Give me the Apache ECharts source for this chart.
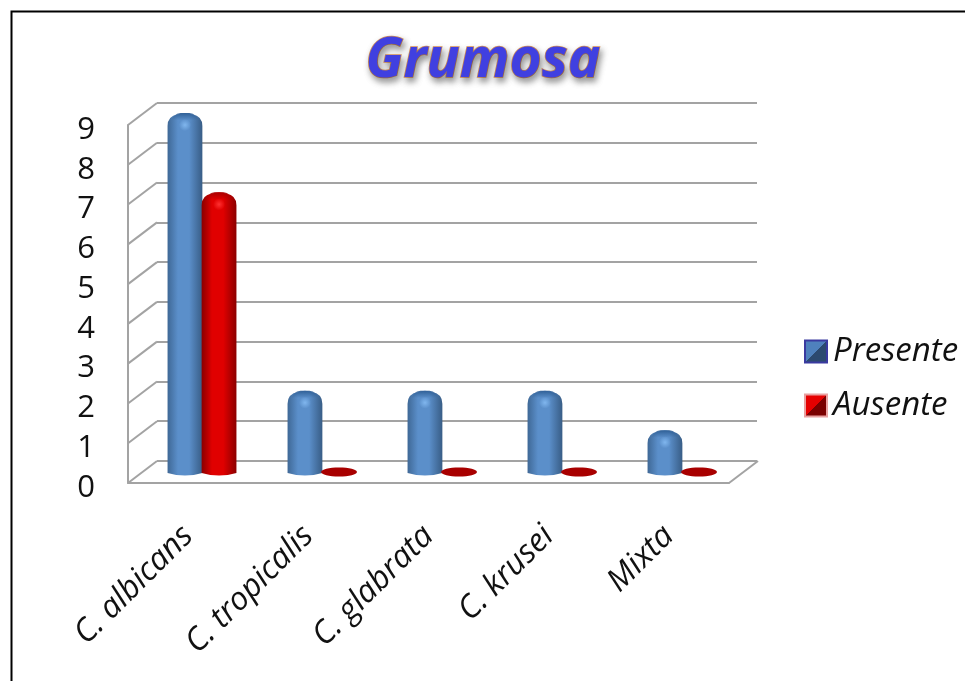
<!DOCTYPE html>
<html>
<head>
<meta charset="utf-8">
<title>Grumosa</title>
<style>
  html, body { margin: 0; padding: 0; background: #fff; }
  #chart { width: 965px; height: 681px; }
</style>
<script src="https://cdn.jsdelivr.net/npm/echarts@6/dist/echarts.min.js"></script>
</head>
<body>
<div id="chart"></div>
<script>
const categories = ['C. albicans', 'C. tropicalis', 'C. glabrata', 'C. krusei', 'Mixta'];
const presente = [9, 2, 2, 2, 1];
const ausente = [7, 0, 0, 0, 0];
const yTicks = [0, 1, 2, 3, 4, 5, 6, 7, 8, 9];

const WIDTH = 965;
const HEIGHT = 681;
const FONT = '"Open Sans", Lato, sans-serif';
const GRID_COLOR = '#a3a3a3';

// the fake 3d box: back wall, front plane and the plane the bars stand in
const backGrid = { left: 157, top: 103, right: WIDTH - 757, bottom: HEIGHT - 461 };
const frontGrid = { left: 128, top: 125, right: WIDTH - 729, bottom: HEIGHT - 483 };
const barGrid = { left: 142, top: 115, right: WIDTH - 742, bottom: HEIGHT - 472 };
const depthX = backGrid.left - frontGrid.left;
const depthY = frontGrid.top - backGrid.top;

const BLUE = { left: '#3f6896', right: '#385d86', mid: '#5b8fca', top: '#2f5f96', glow: '#80b6ee', flat: '#a80000' };
const RED = { left: '#8a0000', right: '#8c0000', mid: '#e00000', top: '#a80000', glow: '#ff3030', flat: '#a80000' };

function cylinder(params, api, shade, shift) {
  const base = api.coord([api.value(0), 0]);
  const head = api.coord([api.value(0), api.value(1)]);
  const band = api.size([1, 0])[0];
  const w = band * 0.29;
  const cx = base[0] + band * shift;
  const x0 = cx - w / 2;
  const x1 = cx + w / 2;
  const bottom = base[1];

  // zero value: only a flat disc on the floor
  if (api.value(1) === 0) {
    return {
      type: 'ellipse',
      shape: { cx: cx, cy: bottom, rx: w / 2 + 0.5, ry: 4.5 },
      style: { fill: shade.flat }
    };
  }

  const top = head[1] - 2;
  const r = 10;
  const outline = 'M' + x0 + ' ' + (bottom + 1)
    + 'L' + x0 + ' ' + (top + r + 3)
    + 'Q' + x0 + ' ' + (top + 3) + ' ' + (x0 + r) + ' ' + (top + 1.5)
    + 'Q' + cx + ' ' + (top - 1.5) + ' ' + (x1 - r) + ' ' + (top + 1.5)
    + 'Q' + x1 + ' ' + (top + 3) + ' ' + x1 + ' ' + (top + r + 3)
    + 'L' + x1 + ' ' + (bottom + 1)
    + 'Q' + cx + ' ' + (bottom + 6) + ' ' + x0 + ' ' + (bottom + 1) + 'Z';

  return {
    type: 'group',
    children: [
      {
        type: 'path',
        shape: { pathData: outline },
        style: {
          fill: new echarts.graphic.LinearGradient(0, 0, 1, 0, [
            { offset: 0, color: shade.left },
            { offset: 0.3, color: shade.mid },
            { offset: 0.62, color: shade.mid },
            { offset: 1, color: shade.right }
          ])
        }
      },
      {
        type: 'rect',
        shape: { x: x0 + 4, y: top, width: w - 8, height: 26, r: [9, 9, 0, 0] },
        style: {
          fill: new echarts.graphic.LinearGradient(0, 0, 0, 1, [
            { offset: 0, color: shade.top },
            { offset: 0.28, color: shade.top + '00' },
            { offset: 1, color: shade.top + '00' }
          ])
        }
      },
      {
        type: 'ellipse',
        shape: { cx: cx, cy: top + 12, rx: 11, ry: 6 },
        style: {
          fill: new echarts.graphic.RadialGradient(0.5, 0.5, 0.5, [
            { offset: 0, color: shade.glow },
            { offset: 1, color: shade.glow + '00' }
          ])
        }
      }
    ]
  };
}

function wallEdges(params, api) {
  const p = api.coord([0, api.value(0)]);
  const sys = params.coordSys;
  const style = { stroke: GRID_COLOR, lineWidth: 2, fill: 'none' };
  const children = [{
    type: 'line',
    shape: { x1: sys.x, y1: p[1], x2: sys.x + depthX, y2: p[1] - depthY },
    style: style
  }];
  if (api.value(0) === 0) {
    children.push({
      type: 'line',
      shape: { x1: sys.x + sys.width, y1: p[1], x2: sys.x + sys.width + depthX, y2: p[1] - depthY },
      style: style
    });
  }
  return { type: 'group', children: children };
}

const legendIcon = (light, dark, border) => ({
  icon: 'rect',
  itemStyle: {
    color: new echarts.graphic.LinearGradient(0, 0, 1, 1, [
      { offset: 0, color: light },
      { offset: 0.5, color: light },
      { offset: 0.5, color: dark },
      { offset: 1, color: dark }
    ]),
    borderColor: border,
    borderWidth: 2
  }
});

const chart = echarts.init(document.getElementById('chart'), null, { renderer: 'canvas' });

const hiddenX = (gridIndex) => ({
  type: 'category',
  gridIndex: gridIndex,
  data: categories,
  show: false
});
const plainY = (gridIndex) => ({
  type: 'value',
  gridIndex: gridIndex,
  min: 0,
  max: 9,
  interval: 1,
  axisLine: { show: false },
  axisTick: { show: false },
  axisLabel: { show: false },
  splitLine: { show: false }
});

chart.setOption({
  animation: false,
  backgroundColor: '#fff',
  title: {
    text: 'Grumosa',
    left: 478,
    top: 29,
    textAlign: 'center',
    textStyle: {
      fontFamily: FONT,
      fontSize: 55,
      fontWeight: 'bold',
      fontStyle: 'italic',
      color: '#4040e0',
      textBorderColor: '#d9925a',
      textBorderWidth: 1.5,
      textShadowColor: 'rgba(0,0,0,0.4)',
      textShadowBlur: 6,
      textShadowOffsetX: 2,
      textShadowOffsetY: 4
    }
  },
  legend: {
    left: 799,
    top: 330,
    orient: 'vertical',
    itemWidth: 22,
    itemHeight: 22,
    itemGap: 21,
    selectedMode: false,
    textStyle: { fontFamily: FONT, fontSize: 33, fontStyle: 'italic', color: '#111', padding: [0, 0, 0, 1] },
    data: [
      { name: 'Presente', ...legendIcon('#4f81bd', '#2c4a70', '#3a3aa0') },
      { name: 'Ausente', ...legendIcon('#e60000', '#7a0000', '#e8a0a0') }
    ]
  },
  grid: [
    { ...backGrid },
    { ...frontGrid },
    { ...barGrid }
  ],
  xAxis: [
    hiddenX(0),
    {
      type: 'category',
      gridIndex: 1,
      data: categories,
      axisLine: { lineStyle: { color: GRID_COLOR, width: 2 } },
      axisTick: { show: false },
      axisLabel: {
        interval: 0,
        rotate: 45,
        margin: 48,
        fontFamily: FONT,
        fontSize: 32,
        fontStyle: 'italic',
        color: '#111'
      }
    },
    hiddenX(2)
  ],
  yAxis: [
    {
      ...plainY(0),
      splitLine: { show: true, lineStyle: { color: GRID_COLOR, width: 2 } }
    },
    {
      ...plainY(1),
      axisLine: { show: true, lineStyle: { color: GRID_COLOR, width: 2 } },
      axisLabel: {
        show: true,
        margin: 33,
        fontFamily: FONT,
        fontSize: 31,
        color: '#111',
        verticalAlign: 'top',
        lineHeight: 10,
        formatter: (v) => (yTicks.includes(v) ? String(v) : '')
      }
    },
    plainY(2)
  ],
  graphic: [{
    type: 'polyline',
    silent: true,
    shape: { points: [[11.5, HEIGHT], [11.5, 11.5], [WIDTH, 11.5]] },
    style: { stroke: '#000', lineWidth: 2, fill: 'none' }
  }],
  series: [
    {
      type: 'custom',
      name: 'edges',
      xAxisIndex: 1,
      yAxisIndex: 1,
      silent: true,
      encode: { y: 0 },
      data: yTicks.map((v) => [v]),
      renderItem: wallEdges
    },
    {
      type: 'custom',
      name: 'Presente',
      xAxisIndex: 2,
      yAxisIndex: 2,
      encode: { x: 0, y: 1 },
      data: presente.map((v, i) => [i, v]),
      renderItem: (params, api) => cylinder(params, api, BLUE, -0.142)
    },
    {
      type: 'custom',
      name: 'Ausente',
      xAxisIndex: 2,
      yAxisIndex: 2,
      encode: { x: 0, y: 1 },
      data: ausente.map((v, i) => [i, v]),
      renderItem: (params, api) => cylinder(params, api, RED, 0.142)
    }
  ]
});
</script>
</body>
</html>
